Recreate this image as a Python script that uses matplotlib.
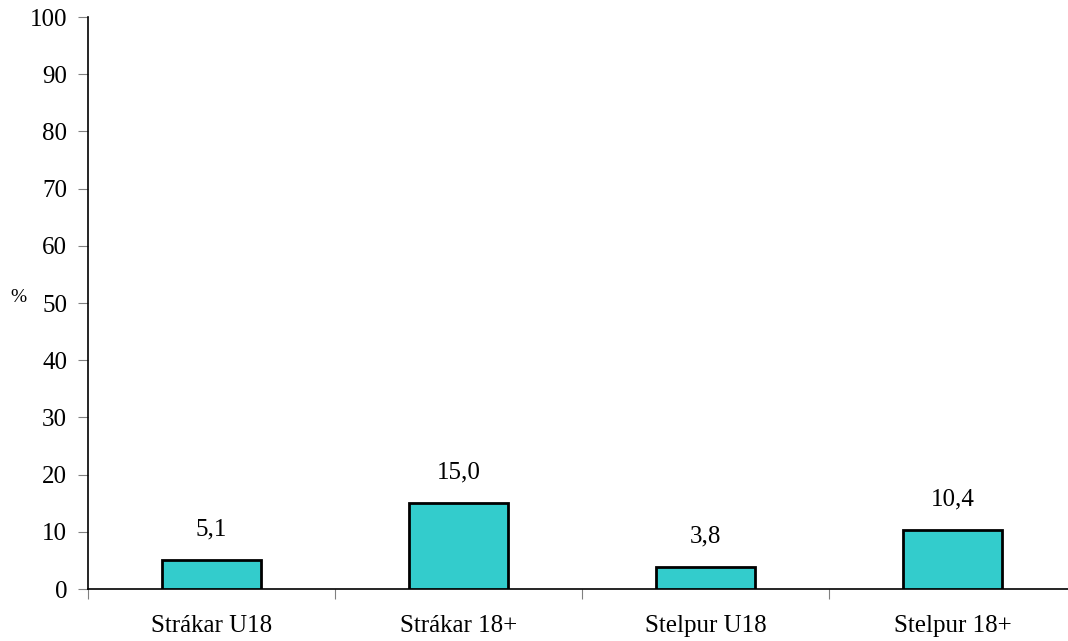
import matplotlib
matplotlib.use("Agg")
import matplotlib.pyplot as plt

categories = ["Strákar U18", "Strákar 18+", "Stelpur U18", "Stelpur 18+"]
values = [5.1, 15.0, 3.8, 10.4]
value_labels = ["5,1", "15,0", "3,8", "10,4"]
yticks = list(range(0, 101, 10))

plt.rcParams["font.family"] = ["Liberation Serif", "DejaVu Serif"]

fig = plt.figure(figsize=(10.68, 6.41), dpi=100)
ax = fig.add_axes([88 / 1068, 1 - 589 / 641, 988 / 1068, 572 / 641])

x = list(range(len(categories)))
ax.bar(x, values, width=0.4, color="#33CCCC", edgecolor="black", linewidth=2, zorder=3)

for xi, v, lab in zip(x, values, value_labels):
    ax.annotate(lab, (xi, v), xytext=(0, 22), textcoords="offset points",
                ha="center", va="center", fontsize=18)

ax.set_xlim(-0.5, len(categories) - 0.5)
ax.set_ylim(0, 100)
ax.set_yticks(yticks)
ax.set_yticklabels([str(t) for t in yticks], fontsize=18)
ax.set_xticks([i + 0.5 for i in range(len(categories) - 1)] + [-0.5])
ax.set_xticklabels([""] * len(categories))
ax.set_xticks(x, minor=True)
ax.set_xticklabels(categories, minor=True, fontsize=18)
ax.tick_params(axis="x", which="minor", length=0, pad=19)
ax.tick_params(axis="x", which="major", length=7, color="#808080", direction="out")
ax.tick_params(axis="y", length=7, color="#808080", pad=8)

for s in ["top", "right"]:
    ax.spines[s].set_visible(False)
ax.spines["left"].set_linewidth(1.2)
ax.spines["bottom"].set_linewidth(1.2)

fig.text(18 / 1068, 1 - 298 / 641, "%", fontsize=14, ha="center", va="center")

fig.savefig("out.png", dpi=100)
